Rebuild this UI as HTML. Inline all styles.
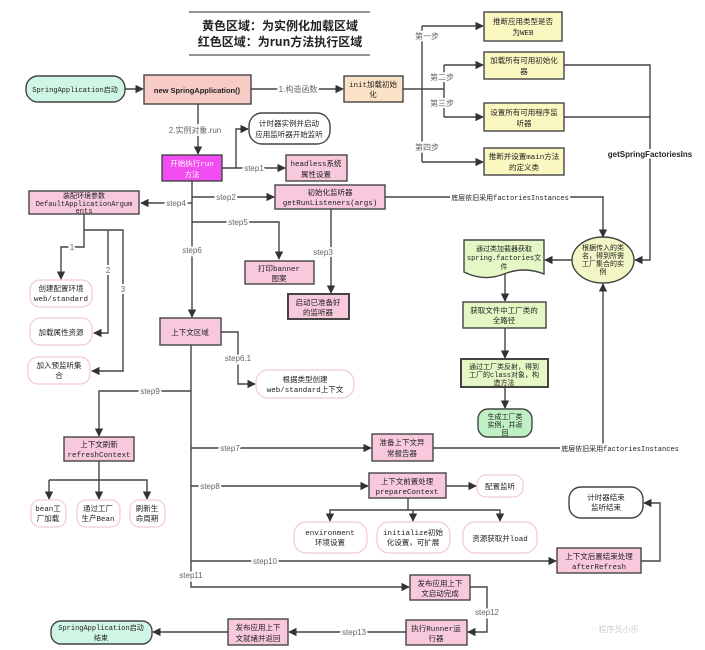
<!DOCTYPE html>
<html><head><meta charset="utf-8"><style>
html,body{margin:0;padding:0;background:#fff;}
svg{display:block;}
text{font-family:"Liberation Mono","Noto Sans CJK SC",monospace;font-size:7.5px;fill:#222;text-anchor:middle;}
.s{font-size:7px;}
.l{font-family:"Liberation Sans","Noto Sans CJK SC",sans-serif;fill:#666;font-size:8px;}
.b{font-weight:bold;}
.ln{stroke:#444;stroke-width:1.4;fill:none;}
.pk{fill:#f8c8dc;stroke:#444;stroke-width:1.4;}
.yl{fill:#fbf7c0;stroke:#444;stroke-width:1.4;}
.gr{fill:#e6f7c6;stroke:#444;stroke-width:1.4;}
.wr{fill:#fff;stroke:#f2cad6;stroke-width:1.2;}
</style></head><body>
<svg width="705" height="650" viewBox="0 0 705 650" xmlns="http://www.w3.org/2000/svg">
<defs><marker id="a" viewBox="0 0 10 10" refX="9" refY="5" markerWidth="6" markerHeight="6" orient="auto"><path d="M0,0L10,5L0,10z" fill="#333"/></marker></defs>
<rect width="705" height="650" fill="#fff"/>
<line x1="189" y1="12" x2="370" y2="12" stroke="#555" stroke-width="1.2"/>
<line x1="189" y1="55" x2="370" y2="55" stroke="#555" stroke-width="1.2"/>
<text x="280" y="30" class="b" style="font-size:12px;font-family:'Noto Sans CJK SC',sans-serif">黄色区域：为实例化加载区域</text>
<text x="280" y="46" class="b" style="font-size:12px;font-family:'Noto Sans CJK SC',sans-serif">红色区域：为run方法执行区域</text>

<rect x="26" y="76" width="99" height="26" rx="12" fill="#cff5e4" stroke="#444" stroke-width="1.4"/>
<text x="75" y="92" class="s">SpringApplication启动</text>
<path class="ln" d="M125,89H143" marker-end="url(#a)"/>
<rect x="144" y="75" width="107" height="29" fill="#f7cbc6" stroke="#444" stroke-width="1.4"/>
<text x="197" y="93" class="b" style="font-family:'Liberation Sans',sans-serif">new SpringApplication()</text>
<path class="ln" d="M251,89H343" marker-end="url(#a)"/>
<text x="298" y="92" class="l" style="fill:#fff;stroke:#fff;stroke-width:4">1.构造函数</text>
<text x="298" y="92" class="l">1.构造函数</text>
<rect x="344" y="76" width="59" height="26" fill="#fbe2c6" stroke="#444" stroke-width="1.4"/>
<text x="373" y="87">init加载初始</text><text x="373" y="97">化</text>

<path class="ln" d="M403,89H444"/>
<path class="ln" d="M422,26V162"/>
<path class="ln" d="M422,26H483" marker-end="url(#a)"/>
<path class="ln" d="M422,162H483" marker-end="url(#a)"/>
<path class="ln" d="M444,65V117"/>
<path class="ln" d="M444,65H483" marker-end="url(#a)"/>
<path class="ln" d="M444,117H483" marker-end="url(#a)"/>
<text x="427" y="39" class="l" style="fill:#fff;stroke:#fff;stroke-width:4">第一步</text><text x="427" y="39" class="l">第一步</text>
<text x="442" y="80" class="l" style="fill:#fff;stroke:#fff;stroke-width:4">第二步</text><text x="442" y="80" class="l">第二步</text>
<text x="442" y="106" class="l" style="fill:#fff;stroke:#fff;stroke-width:4">第三步</text><text x="442" y="106" class="l">第三步</text>
<text x="427" y="150" class="l" style="fill:#fff;stroke:#fff;stroke-width:4">第四步</text><text x="427" y="150" class="l">第四步</text>
<rect class="yl" x="484" y="12" width="78" height="29"/><text x="523" y="24">推断应用类型是否</text><text x="523" y="35">为WEB</text>
<rect class="yl" x="484" y="52" width="80" height="27"/><text x="524" y="63">加载所有可用初始化</text><text x="524" y="74">器</text>
<rect class="yl" x="484" y="103" width="80" height="28"/><text x="524" y="115">设置所有可用程序监</text><text x="524" y="126">听器</text>
<rect class="yl" x="484" y="148" width="80" height="27"/><text x="524" y="159">推断并设置main方法</text><text x="524" y="170">的定义类</text>
<path class="ln" d="M564,65H650V260H635" marker-end="url(#a)"/>
<path class="ln" d="M564,117H650"/>
<text x="650" y="157" class="b" style="font-family:'Liberation Sans',sans-serif;font-size:8px;fill:#fff;stroke:#fff;stroke-width:4">getSpringFactoriesIns</text>
<text x="650" y="157" class="b" style="font-family:'Liberation Sans',sans-serif;font-size:8px">getSpringFactoriesIns</text>

<ellipse cx="603" cy="260" rx="31" ry="23" fill="#f1f6c4" stroke="#444" stroke-width="1.4"/>
<text x="603" y="250" class="s">根据传入的类</text><text x="603" y="258" class="s">名，得到所需</text><text x="603" y="266" class="s">工厂集合的实</text><text x="603" y="274" class="s">例</text>
<path class="ln" d="M385,197H603V237" marker-end="url(#a)"/>
<text x="510" y="200" class="s" style="fill:#fff;stroke:#fff;stroke-width:4">底层依旧采用factoriesInstances</text>
<text x="510" y="200" class="s">底层依旧采用factoriesInstances</text>
<path class="ln" d="M572,260H545" marker-end="url(#a)"/>
<path d="M464,240H544V274Q524,266 504,274T464,272Z" fill="#e6f7c6" stroke="#444" stroke-width="1.4"/>
<text x="504" y="251" class="s">通过类加载器获取</text><text x="504" y="260" class="s">spring.factories文</text><text x="504" y="269" class="s">件</text>
<path class="ln" d="M505,274V301" marker-end="url(#a)"/>
<rect class="gr" x="463" y="302" width="83" height="26"/><text x="504" y="313">获取文件中工厂类的</text><text x="504" y="323">全路径</text>
<path class="ln" d="M505,328V358" marker-end="url(#a)"/>
<rect class="gr" x="461" y="359" width="87" height="28" style="stroke-width:2"/><text x="504" y="369" class="s">通过工厂类反射，得到</text><text x="504" y="377" class="s">工厂的class对象，构</text><text x="504" y="385" class="s">造方法</text>
<path class="ln" d="M505,387V408" marker-end="url(#a)"/>
<rect x="478" y="409" width="54" height="28" rx="10" fill="#bff0c3" stroke="#444" stroke-width="1.4"/>
<text x="505" y="419" class="s">生成工厂类</text><text x="505" y="427" class="s">实例，并返</text><text x="505" y="435" class="s">回</text>
<path class="ln" d="M433,448H603V284" marker-end="url(#a)"/>
<text x="620" y="451" class="s" style="fill:#fff;stroke:#fff;stroke-width:4">底层依旧采用factoriesInstances</text>
<text x="620" y="451" class="s">底层依旧采用factoriesInstances</text>

<path class="ln" d="M198,104V154" marker-end="url(#a)"/>
<text x="195" y="133" class="l" style="fill:#fff;stroke:#fff;stroke-width:4">2.实例对象.run</text><text x="195" y="133" class="l">2.实例对象.run</text>
<rect x="162" y="155" width="60" height="26" fill="#f04cf0" stroke="#444" stroke-width="1.4"/>
<text x="192" y="166" style="fill:#fff">开始执行run</text><text x="192" y="177" style="fill:#fff">方法</text>
<rect x="249" y="113" width="81" height="31" rx="13" fill="#fff" stroke="#444" stroke-width="1.4"/>
<text x="289" y="126">计时器实例并启动</text><text x="289" y="137">应用监听器开始监听</text>
<path class="ln" d="M222,168H285" marker-end="url(#a)"/>
<path class="ln" d="M236,168V129H248" marker-end="url(#a)"/>
<text x="254" y="171" class="l" style="fill:#fff;stroke:#fff;stroke-width:4">step1</text><text x="254" y="171" class="l">step1</text>
<rect class="pk" x="286" y="155" width="61" height="26"/><text x="316" y="166">headless系统</text><text x="316" y="177">属性设置</text>
<rect class="pk" x="275" y="185" width="110" height="24"/><text x="330" y="195">初始化监听器</text><text x="330" y="205">getRunListeners(args)</text>

<path class="ln" d="M192,181V317" marker-end="url(#a)"/>
<path class="ln" d="M192,197H274" marker-end="url(#a)"/>
<text x="226" y="200" class="l" style="fill:#fff;stroke:#fff;stroke-width:4">step2</text><text x="226" y="200" class="l">step2</text>
<path class="ln" d="M192,203H141" marker-end="url(#a)"/>
<text x="176" y="206" class="l" style="fill:#fff;stroke:#fff;stroke-width:4">step4</text><text x="176" y="206" class="l">step4</text>
<path class="ln" d="M192,222H279V259" marker-end="url(#a)"/>
<text x="238" y="225" class="l" style="fill:#fff;stroke:#fff;stroke-width:4">step5</text><text x="238" y="225" class="l">step5</text>
<text x="192" y="253" class="l" style="fill:#fff;stroke:#fff;stroke-width:4">step6</text><text x="192" y="253" class="l">step6</text>
<path class="ln" d="M331,209V293" marker-end="url(#a)"/>
<text x="323" y="255" class="l" style="fill:#fff;stroke:#fff;stroke-width:4">step3</text><text x="323" y="255" class="l">step3</text>
<rect class="pk" x="245" y="261" width="69" height="23"/><text x="279" y="271">打印banner</text><text x="279" y="281">图案</text>
<rect class="pk" x="288" y="294" width="61" height="25" style="stroke-width:2"/><text x="318" y="305">启动已准备好</text><text x="318" y="315">的监听器</text>

<rect class="pk" x="29" y="191" width="110" height="23"/><text x="84" y="198" class="s">装配环境参数</text><text x="84" y="206" class="s">DefaultApplicationArgum</text><text x="84" y="213" class="s">ents</text>
<path class="ln" d="M84,214V230H123V371H92" marker-end="url(#a)"/>
<path class="ln" d="M108,230V333H94" marker-end="url(#a)"/>
<path class="ln" d="M84,230V247H61V279" marker-end="url(#a)"/>
<text x="72" y="250" class="l" style="fill:#fff;stroke:#fff;stroke-width:4">1</text><text x="72" y="250" class="l">1</text>
<text x="108" y="273" class="l" style="fill:#fff;stroke:#fff;stroke-width:4">2</text><text x="108" y="273" class="l">2</text>
<text x="123" y="292" class="l" style="fill:#fff;stroke:#fff;stroke-width:4">3</text><text x="123" y="292" class="l">3</text>
<rect class="wr" x="30" y="280" width="62" height="27" rx="10"/><text x="61" y="291">创建配置环境</text><text x="61" y="301">web/standard</text>
<rect class="wr" x="30" y="318" width="62" height="27" rx="10"/><text x="61" y="335">加载属性资源</text>
<rect class="wr" x="28" y="357" width="62" height="27" rx="10"/><text x="59" y="368">加入预监听集</text><text x="59" y="378">合</text>

<rect class="pk" x="160" y="318" width="61" height="27"/><text x="190" y="335">上下文区域</text>
<path class="ln" d="M221,332H238V384H255" marker-end="url(#a)"/>
<text x="238" y="361" class="l" style="fill:#fff;stroke:#fff;stroke-width:4">step6.1</text><text x="238" y="361" class="l">step6.1</text>
<rect class="wr" x="256" y="370" width="98" height="28" rx="12"/><text x="305" y="382">根据类型创建</text><text x="305" y="392">web/standard上下文</text>

<path class="ln" d="M191,345V587H409" marker-end="url(#a)"/>
<path class="ln" d="M191,391H99V436" marker-end="url(#a)"/>
<text x="150" y="394" class="l" style="fill:#fff;stroke:#fff;stroke-width:4">step9</text><text x="150" y="394" class="l">step9</text>
<rect class="pk" x="64" y="437" width="70" height="24"/><text x="99" y="447">上下文刷新</text><text x="99" y="457">refreshContext</text>
<path class="ln" d="M99,461V499" marker-end="url(#a)"/>
<path class="ln" d="M49,480H147V499" marker-end="url(#a)"/>
<path class="ln" d="M49,480V499" marker-end="url(#a)"/>
<rect class="wr" x="31" y="500" width="35" height="27" rx="9"/><text x="48" y="511">bean工</text><text x="48" y="521">厂加载</text>
<rect class="wr" x="77" y="500" width="43" height="27" rx="9"/><text x="98" y="511">通过工厂</text><text x="98" y="521">生产Bean</text>
<rect class="wr" x="130" y="500" width="35" height="27" rx="9"/><text x="147" y="511">刷新生</text><text x="147" y="521">命周期</text>

<path class="ln" d="M191,448H371" marker-end="url(#a)"/>
<text x="230" y="451" class="l" style="fill:#fff;stroke:#fff;stroke-width:4">step7</text><text x="230" y="451" class="l">step7</text>
<rect class="pk" x="372" y="434" width="61" height="27"/><text x="402" y="445">准备上下文异</text><text x="402" y="456">常报告器</text>
<path class="ln" d="M191,486H368" marker-end="url(#a)"/>
<text x="210" y="489" class="l" style="fill:#fff;stroke:#fff;stroke-width:4">step8</text><text x="210" y="489" class="l">step8</text>
<rect class="pk" x="369" y="473" width="77" height="25"/><text x="407" y="484">上下文前置处理</text><text x="407" y="494">prepareContext</text>
<path class="ln" d="M446,486H476" marker-end="url(#a)"/>
<rect class="wr" x="477" y="475" width="46" height="22" rx="9"/><text x="500" y="489">配置监听</text>
<path class="ln" d="M408,498V510H330V521" marker-end="url(#a)"/>
<path class="ln" d="M413,510V521" marker-end="url(#a)"/>
<path class="ln" d="M408,510H500V521" marker-end="url(#a)"/>
<rect class="wr" x="294" y="522" width="73" height="31" rx="12"/><text x="330" y="535">environment</text><text x="330" y="545">环境设置</text>
<rect class="wr" x="377" y="522" width="73" height="31" rx="12"/><text x="413" y="535">initialize初始</text><text x="413" y="545">化设置，可扩展</text>
<rect class="wr" x="463" y="522" width="74" height="31" rx="12"/><text x="500" y="541">资源获取并load</text>

<path class="ln" d="M191,561H556" marker-end="url(#a)"/>
<text x="265" y="564" class="l" style="fill:#fff;stroke:#fff;stroke-width:4">step10</text><text x="265" y="564" class="l">step10</text>
<rect class="pk" x="557" y="548" width="84" height="25"/><text x="599" y="559">上下文后置结束处理</text><text x="599" y="569">afterRefresh</text>
<path class="ln" d="M641,561H660V503H644" marker-end="url(#a)"/>
<rect x="569" y="487" width="74" height="31" rx="12" fill="#fff" stroke="#444" stroke-width="1.4"/><text x="606" y="500">计时器结束</text><text x="606" y="510">监听结束</text>

<text x="191" y="578" class="l" style="fill:#fff;stroke:#fff;stroke-width:4">step11</text><text x="191" y="578" class="l">step11</text>
<rect class="pk" x="410" y="575" width="60" height="25"/><text x="440" y="586">发布应用上下</text><text x="440" y="596">文启动完成</text>
<path class="ln" d="M470,587H487V632H468" marker-end="url(#a)"/>
<text x="487" y="615" class="l" style="fill:#fff;stroke:#fff;stroke-width:4">step12</text><text x="487" y="615" class="l">step12</text>
<rect class="pk" x="406" y="620" width="61" height="25"/><text x="436" y="631">执行Runner运</text><text x="436" y="641">行器</text>
<path class="ln" d="M406,632H289" marker-end="url(#a)"/>
<text x="354" y="635" class="l" style="fill:#fff;stroke:#fff;stroke-width:4">step13</text><text x="354" y="635" class="l">step13</text>
<rect class="pk" x="228" y="619" width="60" height="26"/><text x="258" y="630">发布应用上下</text><text x="258" y="641">文就绪并返回</text>
<path class="ln" d="M228,632H153" marker-end="url(#a)"/>
<rect x="51" y="621" width="101" height="23" rx="10" fill="#cff5e4" stroke="#444" stroke-width="1.4"/>
<text x="101" y="630" class="s">SpringApplication启动</text><text x="101" y="640" class="s">结束</text>
<text x="615" y="632" class="l" style="fill:#ccc">◌ 程序员小乐</text>
</svg>
</body></html>
